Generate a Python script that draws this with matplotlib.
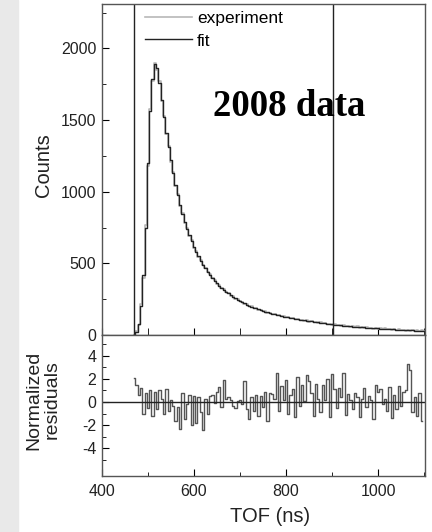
import numpy as np
from matplotlib import pyplot as plt
from matplotlib.patches import Rectangle
from matplotlib.ticker import MultipleLocator, FixedLocator

plt.rcParams['font.family'] = ['Liberation Sans', 'DejaVu Sans']
plt.rcParams['axes.unicode_minus'] = False

# time of flight bins, 5 ns wide, starting at 470 ns
tof_start = 470
tof_step = 5

# fitted curve (counts per bin)
fit_counts = [0, 20, 80, 200, 420, 750, 1200, 1560, 1790, 1890,
              1860, 1760, 1640, 1520, 1410, 1310, 1220, 1130, 1050, 975,
              905, 845, 790, 740, 695, 655, 615, 580, 548, 518,
              490, 465, 441, 419, 399, 380, 362, 345, 330, 316,
              302, 290, 278, 267, 256, 246, 237, 228, 220, 212,
              205, 198, 191, 185, 179, 173, 168, 163, 158, 153,
              149, 145, 141, 137, 133, 129, 126, 123, 120, 117,
              114, 111, 108, 105, 102, 100, 97, 95, 92, 90,
              88, 86, 84, 81, 79, 77, 75, 73, 71, 69,
              67, 65, 64, 62, 61, 59, 58, 57, 55, 54,
              53, 52, 50, 49, 48, 47, 46, 45, 44, 43,
              42, 41, 40, 39, 38, 37, 36, 35, 34, 33,
              33, 32, 31, 30, 30, 29, 29]

# measured counts
exp_counts = [0, 25, 70, 215, 400, 770, 1180, 1580, 1775, 1900,
              1850, 1770, 1630, 1530, 1400, 1320, 1210, 1140, 1040, 985,
              900, 852, 785, 746, 690, 662, 610, 586, 544, 523,
              486, 470, 437, 424, 395, 384, 358, 349, 327, 320,
              299, 294, 275, 271, 253, 250, 234, 231, 217, 215,
              202, 201, 188, 188, 176, 176, 165, 166, 155, 156,
              146, 148, 138, 140, 130, 132, 123, 126, 117, 120,
              111, 114, 105, 108, 99, 103, 94, 98, 89, 93,
              85, 89, 81, 84, 76, 80, 72, 76, 68, 72,
              64, 68, 61, 65, 58, 62, 55, 60, 52, 57,
              50, 55, 47, 52, 45, 50, 43, 48, 41, 46,
              39, 44, 37, 42, 35, 40, 33, 38, 31, 36,
              30, 36, 28, 33, 27, 32, 26]

# normalized residuals per bin
residuals = [2.1, 1.5, 0.6, 1.2, -1.0, 0.8, -0.5, 1.0, -1.2, 0.9,
             -0.6, 1.0, 0.3, -1.0, 1.1, -0.8, 0.2, -0.3, -1.6, -0.4,
             -2.3, 0.8, -1.5, -0.2, 0.6, -2.0, 0.5, -1.8, 0.4, -0.9,
             -2.4, 0.3, -1.0, 0.5, 0.6, -0.1, 0.9, 1.3, -0.4, 1.9,
             0.3, 0.4, 0.2, -0.3, -0.5, 0.1, 0.2, -0.2, 1.8, -0.6,
             -1.5, 0.4, -0.8, 0.6, -1.2, 0.5, -0.4, 0.9, -1.6, 0.8,
             0.7, 0.3, 2.5, -0.8, 1.4, 0.2, 1.9, -1.0, 0.6, 1.1,
             -1.3, 2.2, -0.3, 1.5, 0.1, 2.3, 1.8, 0.8, -1.2, 1.6,
             0.3, -0.9, 1.5, 0.2, 2.0, -1.3, 2.4, 1.1, -0.5, 1.2,
             0.4, 2.5, -1.1, 0.7, 0.2, -0.6, 0.8, 0.4, -1.3, 0.3,
             1.2, -0.4, 0.5, 0.2, -1.5, 1.5, 0.9, 1.1, -0.2, 0.3,
             -0.8, 1.3, -1.4, 0.6, -0.6, 1.4, -0.3, 0.9, 1.0, 3.3,
             2.8, -0.9, 0.4, -1.2, 0.8, -1.6]

# fit window markers (ns)
window_lines = [470, 903]
res_ticks = [-4, -2, 0, 2, 4]

tof = tof_start + tof_step * np.arange(len(fit_counts))
tof_res = tof_start + tof_step * np.arange(len(residuals))

fig = plt.figure(figsize=(4.32, 5.32), dpi=100)

# gray strip on the left edge
fig.patches.append(Rectangle((0, 0), 18 / 432, 1, transform=fig.transFigure,
                             color='#e9e9e9', zorder=0))

ax = fig.add_axes([102 / 432, 1 - 335 / 532, 323 / 432, 331 / 532])
ax2 = fig.add_axes([102 / 432, 1 - 476 / 532, 323 / 432, 141 / 532], sharex=ax)

ax.plot(tof, exp_counts, drawstyle='steps-mid', color='#b8b8b8', lw=1.2, label='experiment')
ax.plot(tof, fit_counts, drawstyle='steps-mid', color='#222222', lw=1.0, label='fit')
for x in window_lines:
    ax.axvline(x, color='#222222', lw=1.0)

ax.set_xlim(400, 1102)
ax.set_ylim(0, 2310)
ax.yaxis.set_major_locator(MultipleLocator(500))
ax.yaxis.set_minor_locator(MultipleLocator(250))
ax.xaxis.set_major_locator(FixedLocator([500, 750, 1000]))
ax.tick_params(axis='x', which='both', direction='in', length=5, labelbottom=False)
ax.tick_params(axis='y', which='major', direction='in', length=5, labelsize=11.5,
               labelcolor='#222222', pad=4)
ax.tick_params(axis='y', which='minor', direction='in', length=3)

ax.legend(loc='upper left', bbox_to_anchor=(0.133, 0.978), frameon=False,
          fontsize=12.5, handlelength=2.7, handletextpad=0.3,
          labelspacing=0.4, borderpad=0, borderaxespad=0)

ax.text(0.579, 0.689, '2008 data', transform=ax.transAxes, ha='center', va='center',
        fontfamily='Liberation Serif', fontweight='bold', fontsize=26.5, color='black')

# residual panel
ax2.plot(tof_res, residuals, drawstyle='steps-mid', color='#555555', lw=1.0)
ax2.axhline(0, color='#222222', lw=1.0)
ax2.set_ylim(-6.4, 5.8)
ax2.yaxis.set_major_locator(FixedLocator(res_ticks))
ax2.yaxis.set_minor_locator(FixedLocator([-5, -3, -1, 1, 3, 5]))
ax2.xaxis.set_major_locator(MultipleLocator(200))
ax2.xaxis.set_minor_locator(MultipleLocator(100))
ax2.tick_params(which='major', direction='in', length=5, labelsize=11.5,
                labelcolor='#222222')
ax2.tick_params(axis='y', which='major', pad=4)
ax2.tick_params(axis='x', which='major', pad=6)
ax2.tick_params(which='minor', direction='in', length=3)

for a in (ax, ax2):
    for s in a.spines.values():
        s.set_color('#555555')
        s.set_linewidth(1.0)

fig.text(43 / 432, 1 - 165 / 532, 'Counts', rotation=90, ha='center', va='center',
         fontsize=14.5, color='#222222')
fig.text(43 / 432, 1 - 400 / 532, 'Normalized\nresiduals', rotation=90, ha='center',
         va='center', fontsize=14, color='#222222', linespacing=1.1)
fig.text(270 / 432, 1 - 516 / 532, 'TOF (ns)', ha='center', va='center',
         fontsize=14.5, color='#222222')

fig.savefig('out.png', dpi=100)
